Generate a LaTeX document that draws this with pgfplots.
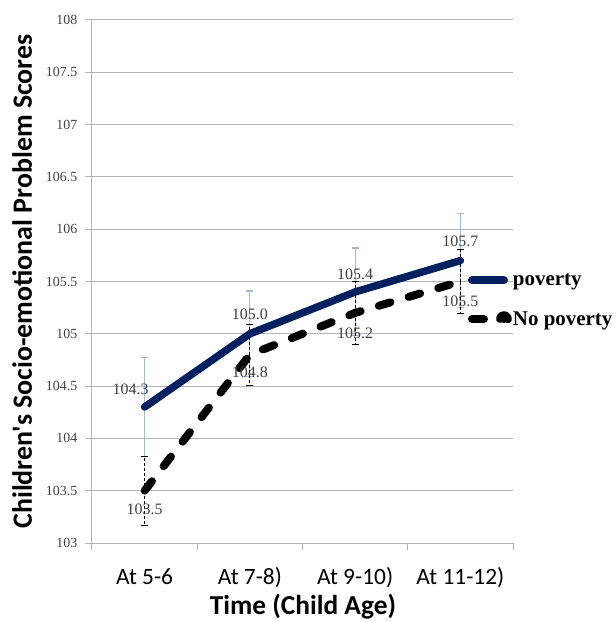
\documentclass[border=0pt]{standalone}
\usepackage{fontspec}
\setmainfont{Liberation Serif}
\newfontfamily\calibri{Carlito}
\usepackage{pgfplots}
\usepackage{pgfplotstable}
\pgfplotsset{compat=1.18}

\definecolor{navy}{RGB}{0,32,96}
\definecolor{errblue}{RGB}{166,185,212}
\definecolor{gridgray}{RGB}{179,179,179}
\definecolor{txtgray}{RGB}{64,64,64}

\pgfplotstableread{
x y e dx dy
0 104.3 0.47 -14 18
1 105.0 0.41 0 19
2 105.4 0.42 0 18
3 105.7 0.45 0 19
}\pov
\pgfplotstableread{
x y e dx dy
0 103.5 0.33 0 -19
1 104.8 0.29 0 -18
2 105.2 0.30 0 -20
3 105.5 0.31 0 -20
}\nopov

\begin{document}
\begin{tikzpicture}
\path[use as bounding box] (-92bp,-79bp) rectangle (524bp,543bp);
\begin{axis}[
  at={(0,0)}, anchor=south west,
  width=421bp, height=523bp, scale only axis,
  xmin=-0.5, xmax=3.5, ymin=103, ymax=108,
  /pgf/number format/assume math mode=true,
  ytick={103,103.5,104,104.5,105,105.5,106,106.5,107,107.5,108},
  xtick={-0.5,0.5,1.5,2.5,3.5},
  xticklabels={,,,,,},
  extra x ticks={0,1,2,3},
  extra x tick labels={At 5-6,At 7-8),At 9-10),At 11-12)},
  extra x tick style={major tick length=0pt,
    tick label style={font=\calibri\fontsize{23.5}{23.5}\selectfont, text=black, anchor=base, inner sep=0pt, yshift=-41bp}},
  axis lines*=left,
  axis line style={gridgray, line width=1bp},
  ymajorgrids, xmajorgrids=false,
  grid style={gridgray, line width=1bp},
  tick style={gridgray, line width=1bp},
  tick align=outside, major tick length=6.5bp,
  yticklabel style={font=\rmfamily\fontsize{14}{14}\selectfont, text=txtgray, anchor=east, inner sep=0pt, xshift=-8bp},
  ylabel={Children's Socio-emotional Problem Scores},
  ylabel style={font=\calibri\bfseries\fontsize{28}{28}\selectfont, at={(axis description cs:-0.166,0.50)}, anchor=center},
  xlabel={Time (Child Age)},
  xlabel style={font=\calibri\bfseries\fontsize{27.5}{27.5}\selectfont, at={(axis description cs:0.501,-0.1224)}, anchor=center},
  legend style={draw=none, fill=none, inner sep=0pt, outer sep=0pt,
    at={(0.893,0.4637)}, anchor=west, row sep=24bp, column sep=1bp,
    font=\rmfamily\bfseries\fontsize{21}{21}\selectfont,
    nodes={inner sep=0pt}},
  legend cell align=left,
]
% error bars
\addplot[forget plot, draw=none, mark=none,
  error bars/.cd, y dir=both, y explicit,
  error bar style={draw=errblue, line width=1.2bp, solid},
  error mark options={draw=errblue, rotate=90, mark size=3.5bp, line width=1.2bp}]
  table[x=x, y=y, y error=e]{\pov};
\addplot[forget plot, draw=none, mark=none,
  error bars/.cd, y dir=both, y explicit,
  error bar style={draw=black, line width=1bp, dash pattern=on 3bp off 2bp},
  error mark options={draw=black, solid, rotate=90, mark size=3.5bp, line width=1bp}]
  table[x=x, y=y, y error=e]{\nopov};
% lines
\addplot[navy, line width=7.5bp, line cap=round, line join=round, mark=none,
  legend image code/.code={\draw[navy, line width=8bp, line cap=round] (0bp,0bp) -- (32bp,0bp);}]
  table[x=x, y=y]{\pov};
\addlegendentry{poverty}
\addplot[black, line width=8bp, line cap=round, line join=round, mark=none, dash pattern=on 12bp off 19bp,
  legend image code/.code={\draw[black, line width=8bp, line cap=round] (0bp,0bp) -- (18bp,0bp); \fill[black] (32bp,0bp) circle (4bp);}]
  table[x=x, y=y]{\nopov};
\addlegendentry{No poverty}
% data labels
\addplot[forget plot, draw=none, mark=none,
  point meta=explicit,
  visualization depends on={\thisrow{dx}\as\mydx},
  visualization depends on={\thisrow{dy}\as\mydy},
  nodes near coords={\pgfmathprintnumber[fixed, fixed zerofill, precision=1, assume math mode=true]{\pgfplotspointmeta}},
  nodes near coords style={font=\rmfamily\fontsize{16}{16}\selectfont, text=txtgray, anchor=center, inner sep=0pt, xshift=\mydx bp, yshift=\mydy bp}]
  table[x=x, y=y, meta=y]{\pov};
\addplot[forget plot, draw=none, mark=none,
  point meta=explicit,
  visualization depends on={\thisrow{dx}\as\mydx},
  visualization depends on={\thisrow{dy}\as\mydy},
  nodes near coords={\pgfmathprintnumber[fixed, fixed zerofill, precision=1, assume math mode=true]{\pgfplotspointmeta}},
  nodes near coords style={font=\rmfamily\fontsize{16}{16}\selectfont, text=txtgray, anchor=center, inner sep=0pt, xshift=\mydx bp, yshift=\mydy bp}]
  table[x=x, y=y, meta=y]{\nopov};
\end{axis}
\end{tikzpicture}
\end{document}
